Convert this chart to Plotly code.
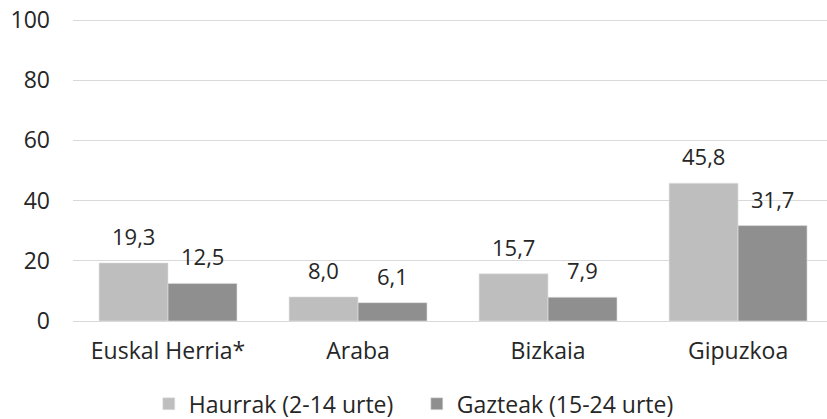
import plotly.graph_objects as go

categories = ["Euskal Herria*", "Araba", "Bizkaia", "Gipuzkoa"]
haurrak = [19.3, 8.0, 15.7, 45.8]
gazteak = [12.5, 6.1, 7.9, 31.7]
series_names = ["Haurrak (2-14 urte)", "Gazteak (15-24 urte)"]
y_ticks = [0, 20, 40, 60, 80, 100]

colors = ["#bebebe", "#8f8f8f"]
font_family = "Open Sans, Lato, sans-serif"
text_color = "#262626"

fig = go.Figure()
for name, vals, col in zip(series_names, [haurrak, gazteak], colors):
    fig.add_trace(go.Bar(
        x=categories, y=vals, name=name,
        marker=dict(color=col, line=dict(color="#e3e3e3", width=0.6)),
    ))

annotations = []
for vals, shift in [(haurrak, -34.5), (gazteak, 34.5)]:
    for c, v in zip(categories, vals):
        annotations.append(dict(
            x=c, y=v, text=f"{v:.1f}".replace(".", ","),
            showarrow=False, xshift=shift, yshift=10, yanchor="bottom",
            font=dict(family=font_family, size=22, color=text_color),
        ))

fig.update_layout(
    width=827, height=419,
    margin=dict(l=73, r=0, t=17, b=98, autoexpand=False),
    paper_bgcolor="white", plot_bgcolor="white",
    barmode="group", bargap=0.274, bargroupgap=0,
    separators=",.",
    font=dict(family=font_family, size=23, color=text_color),
    showlegend=True,
    legend=dict(orientation="h", xref="container", x=0.504, xanchor="center",
                yref="container", y=0.0363, yanchor="middle",
                font=dict(size=23), itemwidth=30, traceorder="normal",
                entrywidth=223, entrywidthmode="pixels"),
    annotations=annotations,
    xaxis=dict(range=[-0.5, 3.468], showgrid=False, showline=False, ticks="",
               tickfont=dict(size=23), ticklabelstandoff=14, automargin=False),
    yaxis=dict(range=[0, 101], tickvals=y_ticks, showgrid=True, gridcolor="#d9d9d9",
               gridwidth=1.3, zeroline=True, zerolinecolor="#d9d9d9", zerolinewidth=1.3,
               ticks="", ticklabelstandoff=22, tickfont=dict(size=23),
               ticklabeloverflow="allow", automargin=False),
)

fig.write_html("out.html", config={"displayModeBar": False},
               post_script="document.body.style.margin='0';")
